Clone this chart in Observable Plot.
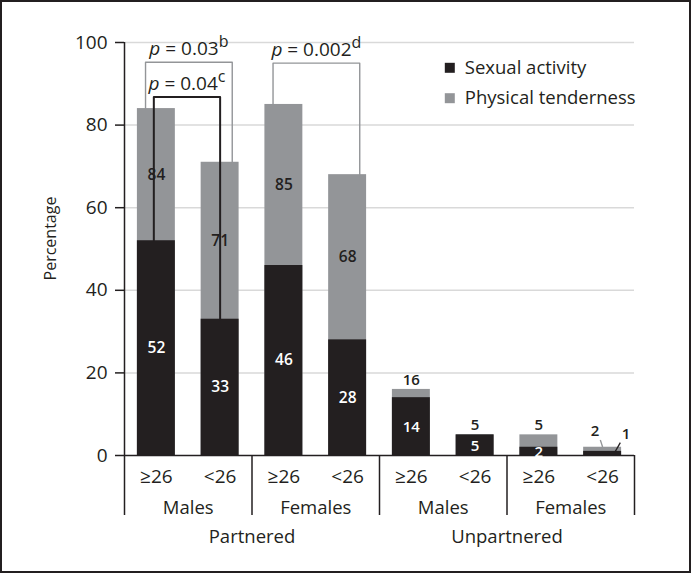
<!DOCTYPE html>
<html>
<head>
<meta charset="utf-8">
<script src="https://cdn.jsdelivr.net/npm/d3@7"></script>
<script src="https://cdn.jsdelivr.net/npm/@observablehq/plot@0.6"></script>
<style>
  body { margin: 0; background: #fff; }
  #wrap { position: relative; width: 691px; height: 573px; }
  #frame { position: absolute; left: 0; top: 0; width: 691px; height: 573px; box-sizing: border-box; border: 2px solid #231f20; pointer-events: none; }
  svg { display: block; }
</style>
</head>
<body>
<div id="wrap"><div id="frame"></div></div>
<script>
// ---- data ----
const partnership = ["Partnered", "Partnered", "Partnered", "Partnered", "Unpartnered", "Unpartnered", "Unpartnered", "Unpartnered"];
const sexes = ["Males", "Males", "Females", "Females", "Males", "Males", "Females", "Females"];
const ages = ["≥26", "<26", "≥26", "<26", "≥26", "<26", "≥26", "<26"];
const sexualActivity = [52, 33, 46, 28, 14, 5, 2, 1];
const physicalTenderness = [84, 71, 85, 68, 16, 5, 5, 2];
const yTicks = [0, 20, 40, 60, 80, 100];
const seriesNames = ["Sexual activity", "Physical tenderness"];

// significance brackets
const bracketFrom = [0, 0, 2];
const bracketTo = [1, 1, 3];
const bracketSeries = ["tender", "sexual", "tender"];
const bracketP = ["0.03", "0.04", "0.002"];
const bracketNote = ["b", "c", "d"];

// ---- styling / layout ----
const BLACK = "#231f20";
const GRAY = "#939598";
const GRID = "#d9d9d9";
const FONT = "'Open Sans', 'Noto Sans', sans-serif";
const bracketLevel = [95.2, 86.8, 95];

const rows = ages.map((age, i) => ({
  i, age, sex: sexes[i], group: partnership[i],
  sexual: sexualActivity[i], tender: physicalTenderness[i]
}));
const n = rows.length;
const lastI = n - 1;

// group runs
function runs(keys) {
  const out = [];
  keys.forEach((k, i) => {
    const prev = out[out.length - 1];
    if (prev && prev.key === k && (keys === sexes ? partnership[i] === partnership[prev.start] : true)) prev.end = i + 1;
    else out.push({key: k, start: i, end: i + 1});
  });
  return out;
}
const sexGroups = runs(sexes);
const partGroups = runs(partnership);
const separators = Array.from(new Set(sexGroups.flatMap(g => [g.start, g.end])));

// brackets -> polyline points
const brackets = bracketFrom.map((a, k) => {
  const b = bracketTo[k];
  const s = bracketSeries[k];
  const black = s === "sexual";
  const xl = a + 0.5 + (black ? -0.04 : -0.17);
  const xr = b + 0.5 + (black ? 0 : 0.19);
  const top = bracketLevel[k];
  return {
    k, black, xl, xr, top,
    label: `p = ${bracketP[k]}|${bracketNote[k]}`,
    pts: [
      {x: xl, y: rows[a][s]},
      {x: xl, y: top},
      {x: xr, y: top},
      {x: xr, y: rows[b][s]}
    ]
  };
});

const inner = 12.9;
const partnered = rows.filter(d => d.group === "Partnered");
const unpartnered = rows.filter(d => d.group !== "Partnered");

function leaders(index, scales) {
  const {x, y} = scales;
  const d = rows[lastI];
  const cx = x(d.i + 0.5);
  const tTop = y(d.tender);
  const sTop = y(d.sexual);
  const g = d3.create("svg:g");
  g.append("line").attr("x1", cx - 1.8).attr("y1", tTop - 6.7).attr("x2", cx + 0.5).attr("y2", tTop + 0.3)
    .attr("stroke", GRAY).attr("stroke-width", 1.3);
  g.append("line").attr("x1", cx + 18.2).attr("y1", sTop - 8.2).attr("x2", cx + 12.5).attr("y2", sTop + 1.8)
    .attr("stroke", BLACK).attr("stroke-width", 1.3);
  return g.node();
}

const chart = Plot.plot({
  width: 691,
  height: 573,
  marginLeft: 124,
  marginRight: 57,
  marginTop: 42,
  marginBottom: 118,
  style: {fontFamily: FONT, fontSize: "18px", color: BLACK, background: "transparent", overflow: "visible"},
  x: {type: "linear", domain: [0, n], axis: null},
  y: {domain: [0, 100], axis: null},
  marks: [
    // gridlines
    Plot.ruleY(yTicks.filter(t => t > 0), {stroke: GRID, strokeWidth: 1.5}),
    // bars
    Plot.rectY(rows, {x1: "i", x2: d => d.i + 1, y1: 0, y2: "tender", fill: GRAY, insetLeft: inner, insetRight: inner}),
    Plot.rectY(rows, {x1: "i", x2: d => d.i + 1, y1: 0, y2: "sexual", fill: BLACK, insetLeft: inner, insetRight: inner}),
    // y axis
    Plot.axisY(yTicks, {tickSize: 9, tickPadding: 8, fontSize: 19, stroke: BLACK, strokeWidth: 1.5, fill: BLACK, label: null}),
    Plot.ruleX([0], {y1: 0, y2: 100, stroke: BLACK, strokeWidth: 1.5}),
    Plot.ruleY([0], {stroke: BLACK, strokeWidth: 1.5}),
    // group separators below axis
    Plot.ruleX(separators, {x: d => d, y1: 0, y2: 0, insetBottom: -60, stroke: BLACK, strokeWidth: 1.5}),
    // x labels
    Plot.text(rows, {x: d => d.i + 0.5, y: 0, text: "age", dy: 27.3, lineAnchor: "bottom", fontSize: 19, fill: BLACK}),
    Plot.text(sexGroups, {x: d => (d.start + d.end) / 2, y: 0, text: "key", dy: 58.3, lineAnchor: "bottom", fontSize: 18.5, fill: BLACK}),
    Plot.text(partGroups, {x: d => (d.start + d.end) / 2, y: 0, text: "key", dy: 87, lineAnchor: "bottom", fontSize: 18.5, fill: BLACK}),
    // y title
    Plot.text(["Percentage"], {frameAnchor: "left", rotate: -90, dx: -74, dy: -10.5, textAnchor: "middle", lineAnchor: "middle", fontSize: 16, fill: BLACK}),
    // value labels – partnered (inside)
    Plot.text(partnered, {x: d => d.i + 0.5, y: d => (d.tender + d.sexual) / 2, text: d => String(d.tender), lineAnchor: "middle", fontSize: 15.5, fontWeight: 600, fill: BLACK}),
    Plot.text(partnered, {x: d => d.i + 0.5, y: d => d.sexual / 2, text: d => String(d.sexual), lineAnchor: "middle", fontSize: 15.5, fontWeight: 600, fill: "white"}),
    // value labels – unpartnered (above / inside)
    Plot.text(unpartnered.filter(d => d.i !== lastI), {x: d => d.i + 0.5, y: "tender", text: d => String(d.tender), lineAnchor: "bottom", dy: -4.5, fontSize: 15, fontWeight: 600, fill: BLACK}),
    Plot.text(unpartnered.filter(d => d.i !== lastI), {x: d => d.i + 0.5, y: d => d.sexual / 2, text: d => String(d.sexual), lineAnchor: "middle", dy: 1, fontSize: 15, fontWeight: 600, fill: "white"}),
    Plot.text([rows[lastI]], {x: d => d.i + 0.5, y: "tender", text: d => String(d.tender), lineAnchor: "bottom", dx: -7.5, dy: -11.2, fontSize: 15, fontWeight: 600, fill: BLACK}),
    Plot.text([rows[lastI]], {x: d => d.i + 0.5, y: "sexual", text: d => String(d.sexual), lineAnchor: "bottom", dx: 23.5, dy: -12.4, fontSize: 15, fontWeight: 600, fill: BLACK}),
    leaders,
    // significance brackets
    ...brackets.map(b => Plot.line(b.pts, {x: "x", y: "y", stroke: b.black ? BLACK : GRAY, strokeWidth: b.black ? 2 : 1.4, curve: "linear"})),
    Plot.text(brackets, {x: d => (d.xl + d.xr) / 2, y: "top", text: "label", lineAnchor: "bottom", dy: -7, fontSize: 19, fill: BLACK}),
    // legend
    Plot.dot([seriesNames[0]], {frameAnchor: "top-left", dx: 325.3, dy: 25.3, symbol: "square", r: 5.64, fill: BLACK, stroke: null}),
    Plot.dot([seriesNames[1]], {frameAnchor: "top-left", dx: 325.3, dy: 55.7, symbol: "square", r: 5.64, fill: GRAY, stroke: null}),
    Plot.text([seriesNames[0]], {frameAnchor: "top-left", dx: 340.3, dy: 25.3, textAnchor: "start", lineAnchor: "middle", fontSize: 18.5, fill: BLACK}),
    Plot.text([seriesNames[1]], {frameAnchor: "top-left", dx: 340.3, dy: 55.7, textAnchor: "start", lineAnchor: "middle", fontSize: 18.5, fill: BLACK})
  ]
});

// rich text for p-values: italic p and superscript note
d3.select(chart).selectAll("text").each(function () {
  const m = /^p = ([\d.]+)\|(\w)$/.exec(this.textContent);
  if (!m) return;
  const s = d3.select(this);
  s.text(null);
  s.append("tspan").attr("font-style", "italic").text("p");
  s.append("tspan").text(" = " + m[1]);
  s.append("tspan").attr("dy", -8).attr("font-size", 16).text(m[2]);
});

document.getElementById("wrap").insertBefore(chart, document.getElementById("frame"));
</script>
</body>
</html>
